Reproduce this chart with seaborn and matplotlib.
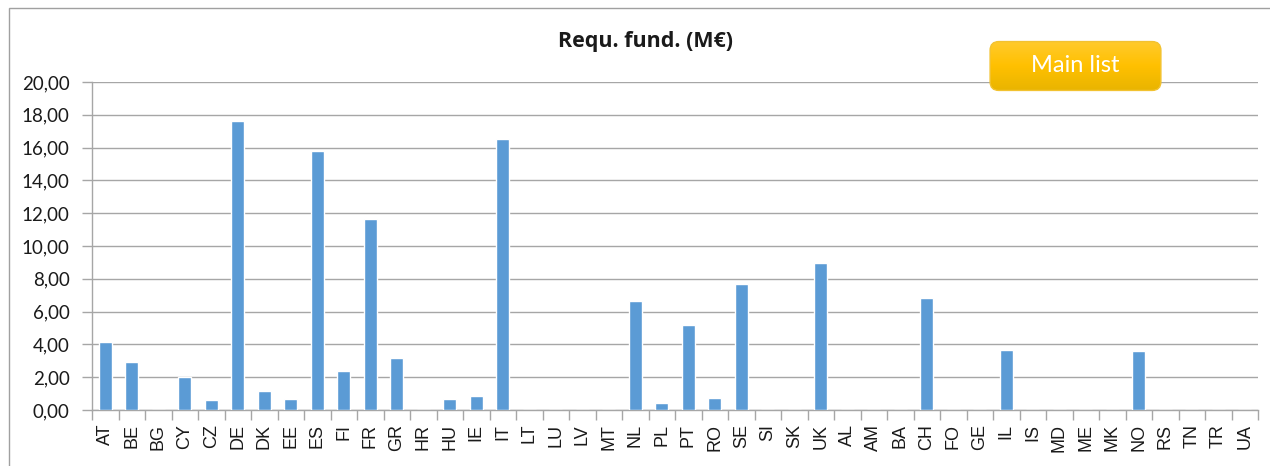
import matplotlib
matplotlib.use("Agg")
import matplotlib.pyplot as plt
import seaborn as sns
import numpy as np
import pandas as pd
from matplotlib.patches import FancyBboxPatch, Rectangle
from matplotlib.ticker import FuncFormatter, FixedLocator
from matplotlib.colors import LinearSegmentedColormap

countries = ["AT", "BE", "BG", "CY", "CZ", "DE", "DK", "EE", "ES", "FI", "FR", "GR",
             "HR", "HU", "IE", "IT", "LT", "LU", "LV", "MT", "NL", "PL", "PT", "RO",
             "SE", "SI", "SK", "UK", "AL", "AM", "BA", "CH", "FO", "GE", "IL", "IS",
             "MD", "ME", "MK", "NO", "RS", "TN", "TR", "UA"]
funding = [4.15, 2.90, 0.0, 2.00, 0.60, 17.60, 1.15, 0.65, 15.80, 2.40, 11.65, 3.15,
           0.0, 0.65, 0.85, 16.55, 0.0, 0.0, 0.0, 0.0, 6.65, 0.45, 5.20, 0.75,
           7.70, 0.0, 0.0, 8.95, 0.0, 0.0, 0.0, 6.80, 0.0, 0.0, 3.65, 0.0,
           0.0, 0.0, 0.0, 3.60, 0.0, 0.0, 0.0, 0.0]
y_ticks = [0, 2, 4, 6, 8, 10, 12, 14, 16, 18, 20]
title = "Requ. fund. (M€)"
button_label = "Main list"

sns.set_theme(style="white")
plt.rcParams['font.family'] = ['Lato', 'DejaVu Sans']

W, H = 1270, 466
fig = plt.figure(figsize=(W / 100, H / 100), dpi=100)
fig.patch.set_facecolor("white")

# outer chart frame
fig.patches.append(Rectangle((9 / W, -0.1), 1.2, 1 - 8 / H + 0.1, transform=fig.transFigure,
                             fill=False, edgecolor="#A0A0A0", linewidth=1.0))

ax = fig.add_axes([92 / W, 1 - 410 / H, (1258 - 92) / W, (410 - 82) / H])
df = pd.DataFrame({"country": countries, "value": funding})
sns.barplot(data=df, x="country", y="value", color="#5B9BD5", saturation=1,
            width=0.5, ax=ax, zorder=3)

ax.set_xlim(-0.5, len(countries) - 0.5)
ax.set_ylim(0, 20)
ax.set_yticks(y_ticks)
ax.yaxis.set_major_formatter(FuncFormatter(lambda v, p: f"{v:.2f}".replace(".", ",")))
ax.set_xlabel("")
ax.set_ylabel("")

ax.grid(axis="y", color="#A6A6A6", linewidth=1.0, zorder=0)
ax.grid(axis="x", visible=False)
for s in ["top", "right"]:
    ax.spines[s].set_visible(False)
for s in ["left", "bottom"]:
    ax.spines[s].set_visible(True)
    ax.spines[s].set_color("#A6A6A6")
    ax.spines[s].set_linewidth(1.0)

ax.tick_params(axis="y", which="major", left=True, length=7, width=1, color="#A6A6A6",
               labelsize=13.5, labelcolor="#1a1a1a", pad=9)
ax.tick_params(axis="x", which="major", bottom=False, length=0, labelsize=13,
               labelcolor="#1a1a1a", labelrotation=90, pad=10)
for lab in ax.get_xticklabels():
    lab.set_fontfamily(['Liberation Sans', 'DejaVu Sans'])
ax.xaxis.set_minor_locator(FixedLocator(np.arange(-0.5, len(countries), 1.0)))
ax.tick_params(axis="x", which="minor", bottom=True, length=7, width=1, color="#A6A6A6")

fig.text(646 / W, 1 - 42 / H, title, ha="center", va="center", fontsize=15.5,
         fontweight="bold", color="#1a1a1a", family=['Open Sans', 'DejaVu Sans'])

# button with gradient
bx0, by0, bx1, by1 = 988, 40, 1163, 92
bax = fig.add_axes([bx0 / W, 1 - by1 / H, (bx1 - bx0) / W, (by1 - by0) / H])
bax.set_xlim(0, 1)
bax.set_ylim(0, 1)
bax.axis("off")
grad = np.linspace(0, 1, 64).reshape(-1, 1)
cmap = LinearSegmentedColormap.from_list("btn", ["#E8B400", "#FFC000", "#FFCB2E"])
patch = FancyBboxPatch((0.012, 0.03), 0.976, 0.94, boxstyle="round,pad=0,rounding_size=0.05",
                       mutation_aspect=(bx1 - bx0) / (by1 - by0),
                       facecolor="none", edgecolor="#F2C230", linewidth=1.0,
                       transform=bax.transAxes)
bax.add_patch(patch)
im = bax.imshow(grad, extent=[0, 1, 0, 1], origin="lower", cmap=cmap, aspect="auto",
                transform=bax.transAxes)
im.set_clip_path(patch)
bax.text(0.5, 0.5, button_label, ha="center", va="center", color="white", fontsize=17,
         transform=bax.transAxes)

fig.savefig("out.png", dpi=100)
